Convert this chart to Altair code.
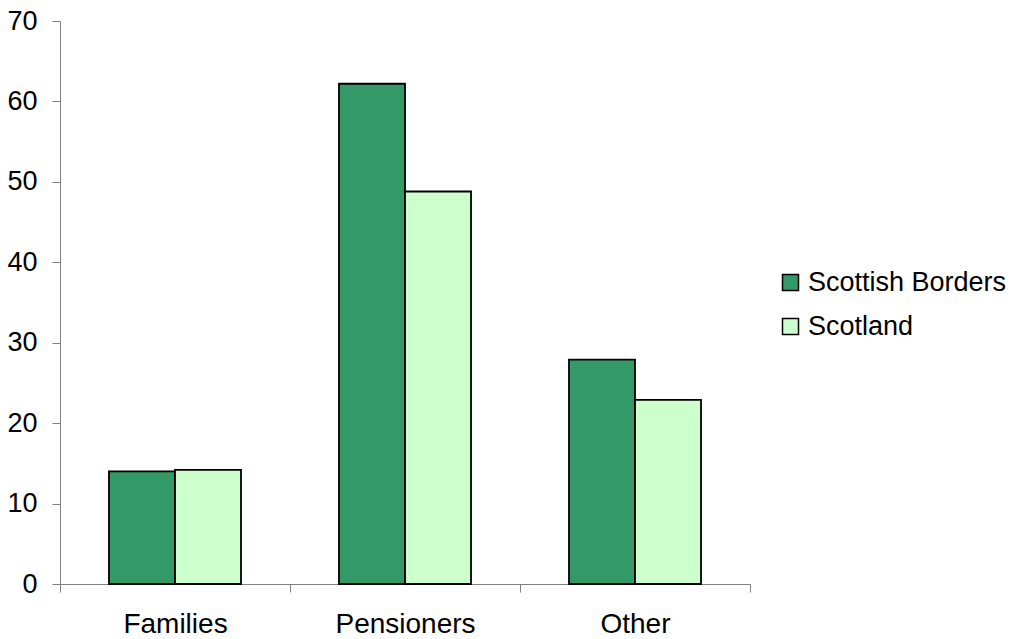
import altair as alt
import pandas as pd

categories = ["Families", "Pensioners", "Other"]
series = ["Scottish Borders", "Scotland"]
borders = [14.0, 62.2, 27.9]
scotland = [14.2, 48.8, 22.9]

rows = []
for i, c in enumerate(categories):
    rows.append({"cat": c, "series": series[0], "value": borders[i]})
    rows.append({"cat": c, "series": series[1], "value": scotland[i]})
df = pd.DataFrame(rows)

FONT = "Liberation Sans"
FS = 27

chart = alt.Chart(df).mark_bar(stroke="black", strokeWidth=1.8).encode(
    x=alt.X("cat:N", sort=categories, title=None,
            scale=alt.Scale(paddingInner=0, paddingOuter=0),
            axis=alt.Axis(labelAngle=0, tickBand="extent", tickSize=8,
                          labelPadding=18, labelFontSize=28, labelColor="black",
                          domainColor="#808080", tickColor="#808080",
                          labelFont=FONT)),
    xOffset=alt.XOffset("series:N", sort=series,
                        scale=alt.Scale(paddingInner=0, paddingOuter=0.742)),
    y=alt.Y("value:Q", title=None,
            scale=alt.Scale(domain=[0, 70]),
            axis=alt.Axis(values=[0, 10, 20, 30, 40, 50, 60, 70], grid=False,
                          tickSize=8, labelPadding=15, labelFontSize=FS,
                          labelColor="black", domainColor="#808080",
                          tickColor="#808080", labelFont=FONT)),
    color=alt.Color("series:N", sort=series, title=None,
                    scale=alt.Scale(domain=series, range=["#339966", "#CCFFCC"]),
                    legend=alt.Legend(orient="none", legendX=717, legendY=248,
                                      symbolType="square", symbolSize=256,
                                      symbolStrokeColor="black", symbolStrokeWidth=1.5,
                                      labelFontSize=FS, labelFont=FONT,
                                      labelColor="black", rowPadding=16,
                                      labelOffset=4, labelLimit=0)),
).properties(
    width=690, height=563,
    autosize=alt.AutoSizeParams(type="none"),
    padding={"left": 52, "top": 13, "right": 260, "bottom": 55},
).configure(font=FONT).configure_view(strokeWidth=0, stroke="transparent")

chart.save("out.html", embed_options={"renderer": "svg", "actions": False})
